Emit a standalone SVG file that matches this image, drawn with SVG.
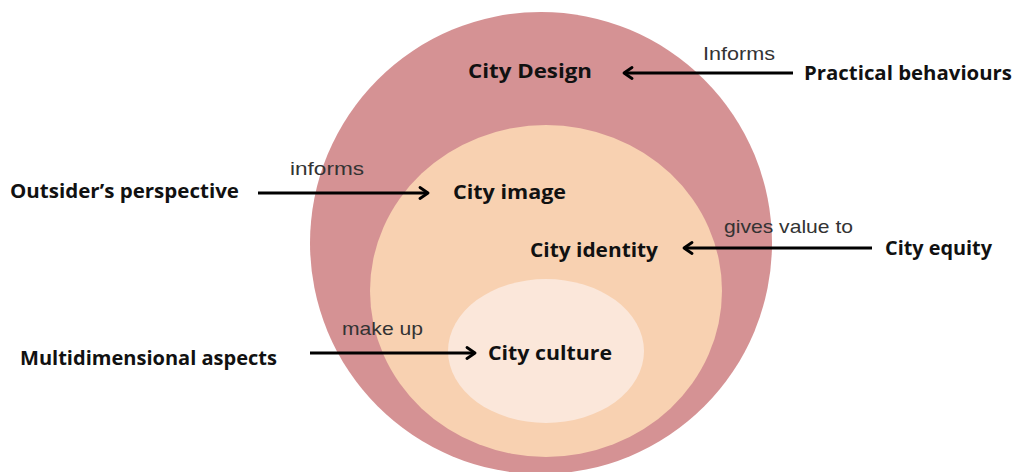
<svg xmlns="http://www.w3.org/2000/svg" width="1017" height="472" viewBox="0 0 1017 472">
<defs>
<marker id="ah" viewBox="0 0 12 14" refX="10" refY="7" markerWidth="12" markerHeight="14" markerUnits="userSpaceOnUse" orient="auto">
<path d="M2,1.5 L10,7 L2,12.5" fill="none" stroke="#000" stroke-width="2.8" stroke-linecap="round" stroke-linejoin="round"/>
</marker>
</defs>
<style>
.node{font-family:"Open Sans","Noto Sans","DejaVu Sans",sans-serif;font-weight:bold;font-size:20px;fill:#111}
.lbl{font-family:"Liberation Sans",Arial,sans-serif;font-size:19px;fill:#333}
.conn line{stroke:#000;stroke-width:3;marker-end:url(#ah)}
</style>
<rect width="1017" height="472" fill="#fff"/>
<g id="ring-design"><circle cx="541" cy="243" r="231" fill="#d59294"/></g>
<g id="ring-identity"><ellipse cx="546" cy="291" rx="176" ry="166" fill="#f8d1b1"/></g>
<g id="ring-culture"><ellipse cx="546" cy="351" rx="98" ry="72" fill="#fbe7da"/></g>
<g id="city-design"><text class="node" x="468" y="78" textLength="124" lengthAdjust="spacingAndGlyphs">City Design</text></g>
<g id="city-image"><text class="node" x="453" y="199" textLength="113" lengthAdjust="spacingAndGlyphs">City image</text></g>
<g id="city-identity"><text class="node" x="530" y="257" textLength="128" lengthAdjust="spacingAndGlyphs">City identity</text></g>
<g id="city-culture"><text class="node" x="488" y="360" textLength="124" lengthAdjust="spacingAndGlyphs">City culture</text></g>
<g id="practical-behaviours"><text class="node" x="804" y="80" textLength="208" lengthAdjust="spacingAndGlyphs">Practical behaviours</text></g>
<g id="outsiders-perspective"><text class="node" x="10" y="198" textLength="229" lengthAdjust="spacingAndGlyphs">Outsider’s perspective</text></g>
<g id="city-equity"><text class="node" x="885" y="255" textLength="107" lengthAdjust="spacingAndGlyphs">City equity</text></g>
<g id="multidimensional-aspects"><text class="node" x="20" y="365" textLength="257" lengthAdjust="spacingAndGlyphs">Multidimensional aspects</text></g>
<g class="conn" id="connectors">
<line x1="793" y1="73" x2="624" y2="73"/>
<line x1="258" y1="193" x2="428" y2="193"/>
<line x1="872" y1="248" x2="684" y2="248"/>
<line x1="310" y1="353" x2="475" y2="353"/>
<text class="lbl" x="703" y="60" textLength="72" lengthAdjust="spacingAndGlyphs">Informs</text>
<text class="lbl" x="290" y="175" textLength="74" lengthAdjust="spacingAndGlyphs">informs</text>
<text class="lbl" x="724" y="233" textLength="129" lengthAdjust="spacingAndGlyphs">gives value to</text>
<text class="lbl" x="342" y="335" textLength="81" lengthAdjust="spacingAndGlyphs">make up</text>
</g>
</svg>
